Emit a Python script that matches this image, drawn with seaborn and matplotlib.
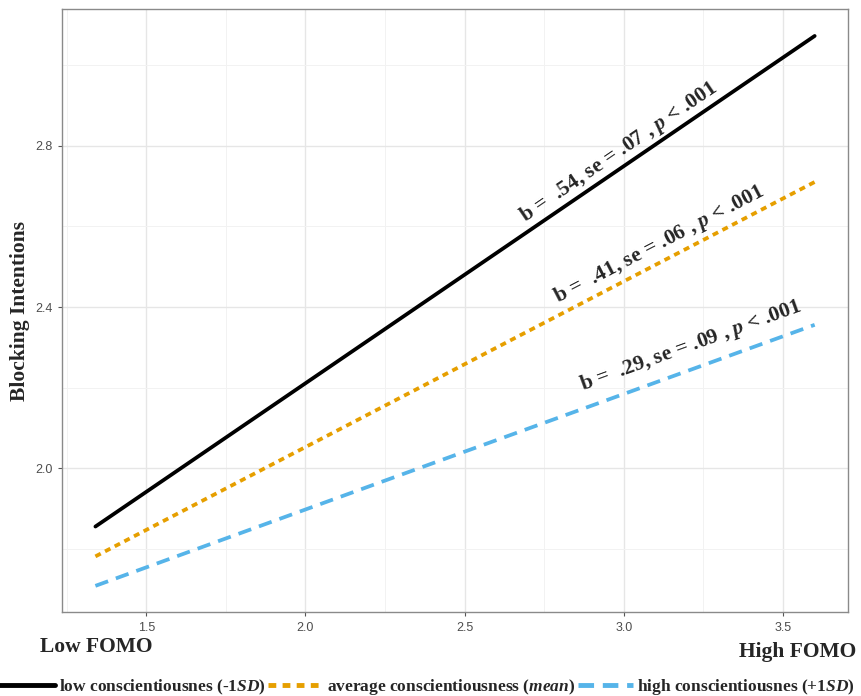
import matplotlib
matplotlib.use("Agg")
import matplotlib.pyplot as plt
import numpy as np
import pandas as pd
import seaborn as sns
from matplotlib.lines import Line2D
from matplotlib.ticker import MultipleLocator, FormatStrFormatter

# simple slopes: blocking intentions at low / mean / high FOMO
fomo = [1.34, 2.47, 3.60]
low_consc = [1.856, 2.464, 3.072]
avg_consc = [1.782, 2.246, 2.710]
high_consc = [1.709, 2.033, 2.356]

groups = ["low", "average", "high"]
slope_labels = [
    r"b =  .54, se = .07 , $\mathit{p}$ < .001",
    r"b =  .41, se = .06 , $\mathit{p}$ < .001",
    r"b =  .29, se = .09 , $\mathit{p}$ < .001",
]
legend_labels = [
    r"low conscientiousnes (-$\mathit{1SD}$)",
    r"average conscientiousness ($\mathit{mean}$)",
    r"high conscientiousnes (+$\mathit{1SD}$)",
]
label_pos = [(2.984, 2.783), (3.113, 2.556), (3.21, 2.303)]

colors = ["#000000", "#E69F00", "#56B4E9"]
dashes = ["", (1.6, 1.3), (3.6, 2.2)]

df = pd.DataFrame({
    "fomo": fomo * 3,
    "blocking": low_consc + avg_consc + high_consc,
    "group": [g for g in groups for _ in fomo],
})

sns.set_style("white")
plt.rcParams["font.family"] = ["Liberation Serif", "DejaVu Serif"]
plt.rcParams["mathtext.fontset"] = "custom"
plt.rcParams["mathtext.rm"] = "Liberation Serif:bold"
plt.rcParams["mathtext.it"] = "Liberation Serif:italic:bold"

fig = plt.figure(figsize=(8.61, 6.96), dpi=100)
ax = fig.add_axes([0.072, 0.12, 0.913, 0.8666])

sns.lineplot(data=df, x="fomo", y="blocking", hue="group", style="group",
             palette=colors, dashes=dashes, linewidth=2.7, legend=False, ax=ax)
for ln in ax.get_lines():
    ln.set_solid_capstyle("round")
    ln.set_dash_capstyle("butt")

ax.set_xlim(1.235, 3.705)
ax.set_ylim(1.643, 3.138)
ax.xaxis.set_major_locator(MultipleLocator(0.5))
ax.xaxis.set_minor_locator(MultipleLocator(0.25))
ax.yaxis.set_major_locator(MultipleLocator(0.4))
ax.yaxis.set_minor_locator(MultipleLocator(0.2))
ax.set_axisbelow(True)
ax.grid(which="major", color="#e6e6e6", linewidth=1.0)
ax.grid(which="minor", color="#f2f2f2", linewidth=0.7)
for sp in ax.spines.values():
    sp.set_color("#8a8a8a")
    sp.set_linewidth(1.0)
ax.tick_params(which="major", direction="out", length=3, width=0.8, color="#555555",
               labelsize=9, labelcolor="#4d4d4d", left=True, bottom=True)
ax.tick_params(which="minor", length=0)
ax.xaxis.set_major_formatter(FormatStrFormatter("%.1f"))
ax.yaxis.set_major_formatter(FormatStrFormatter("%.1f"))
for lab in ax.get_xticklabels() + ax.get_yticklabels():
    lab.set_family("Liberation Sans")
ax.set_xlabel("")
ax.set_ylabel("Blocking Intentions", fontsize=15.5, fontweight="bold", labelpad=4)

fig.text(0.046, 0.07, "Low FOMO", fontsize=15.5, fontweight="bold", va="center")
fig.text(0.994, 0.063, "High FOMO", fontsize=15.5, fontweight="bold", va="center", ha="right")

# slope annotations, rotated along each line
fig.canvas.draw()
series = [low_consc, avg_consc, high_consc]
for ys, txt, (tx, ty) in zip(series, slope_labels, label_pos):
    p0 = ax.transData.transform((fomo[0], ys[0]))
    p1 = ax.transData.transform((fomo[-1], ys[-1]))
    ang = np.degrees(np.arctan2(p1[1] - p0[1], p1[0] - p0[0]))
    ax.text(tx, ty, txt, rotation=ang, rotation_mode="anchor", ha="center", va="center",
            fontsize=15.5, fontweight="bold")

handles = [Line2D([0], [0], color=colors[0], linewidth=3.5),
           Line2D([0], [0], color=colors[1], linewidth=3.5, linestyle=(0, (1.6, 1.3))),
           Line2D([0], [0], color=colors[2], linewidth=3.5, linestyle=(0, (3.2, 1.8)))]
fig.legend(handles, legend_labels, loc="lower center", ncol=3,
           bbox_to_anchor=(0.496, -0.024), frameon=False, handlelength=3.2,
           handletextpad=0.2, columnspacing=0.15, prop={"size": 12.5, "weight": "bold"})

fig.savefig("out.png", dpi=100)
